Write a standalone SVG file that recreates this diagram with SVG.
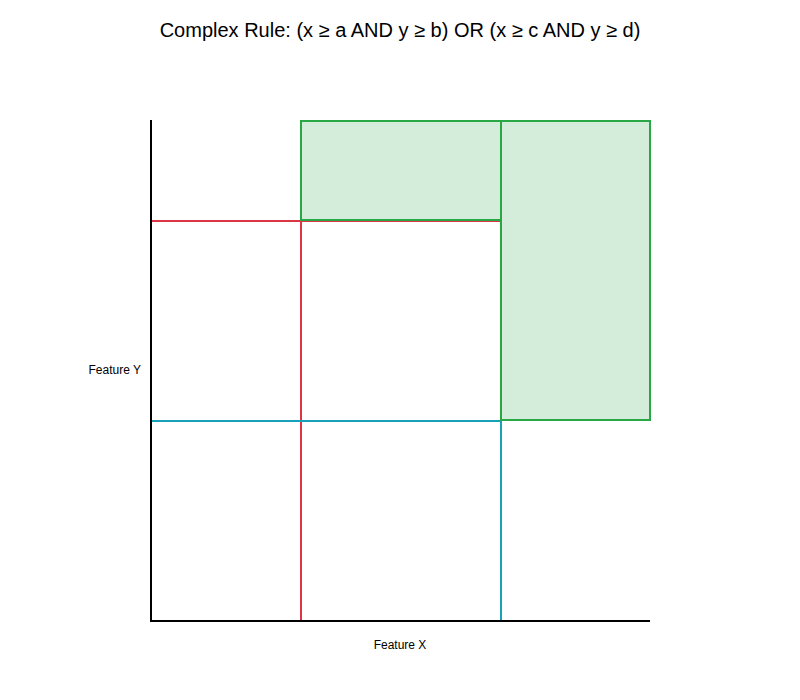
<svg xmlns="http://www.w3.org/2000/svg" width="800" height="700" viewBox="0 0 800 700">
<style>
text{font-family:"Liberation Sans",Arial,sans-serif;fill:#000}
.title{font-size:20px;text-anchor:middle}
.lbl{font-size:12px}
.thr-a{stroke:#dc3545;stroke-width:2;fill:none}
.thr-c{stroke:#17a2b8;stroke-width:2;fill:none}
.region{fill:#d4edda;stroke:#28a745;stroke-width:2}
.axis{stroke:#000;stroke-width:2}
</style>
<rect width="800" height="700" fill="#fff"/>
<text class="title" x="400" y="37">Complex Rule: (x ≥ a AND y ≥ b) OR (x ≥ c AND y ≥ d)</text>
<g id="connectors">
<path class="thr-a" d="M151,221 H501 M301,221 V621"/>
<path class="thr-c" d="M151,421 H501 M501,421 V621"/>
</g>
<g id="region1"><rect class="region" x="301" y="121" width="200" height="99"/></g>
<g id="region2"><rect class="region" x="501" y="121" width="149" height="299"/></g>
<g id="axes">
<line class="axis" x1="151" y1="120" x2="151" y2="622"/>
<line class="axis" x1="150" y1="621" x2="650" y2="621"/>
</g>
<text class="lbl" x="141" y="374" text-anchor="end">Feature Y</text>
<text class="lbl" x="400" y="649" text-anchor="middle">Feature X</text>
</svg>
